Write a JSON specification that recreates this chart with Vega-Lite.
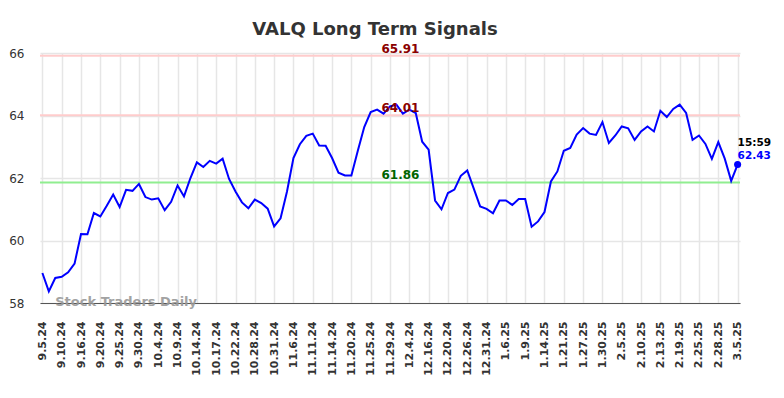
{
  "$schema": "https://vega.github.io/schema/vega-lite/v6.json",
  "width": 700,
  "height": 250,
  "autosize": "none",
  "padding": {"left": 40, "top": 53, "right": 44, "bottom": 95},
  "background": "white",
  "title": {
    "text": "VALQ Long Term Signals",
    "font": "DejaVu Sans",
    "fontSize": 18,
    "fontWeight": "bold",
    "color": "#333333",
    "anchor": "middle",
    "dx": -15,
    "baseline": "alphabetic",
    "offset": -10
  },
  "config": {
    "view": {"stroke": null},
    "font": "DejaVu Sans"
  },
  "datasets": {
    "prices": [
      {"date": "9.5.24", "price": 58.96},
      {"date": "9.6.24", "price": 58.37},
      {"date": "9.9.24", "price": 58.80},
      {"date": "9.10.24", "price": 58.84},
      {"date": "9.11.24", "price": 58.98},
      {"date": "9.13.24", "price": 59.26},
      {"date": "9.16.24", "price": 60.21},
      {"date": "9.17.24", "price": 60.20},
      {"date": "9.18.24", "price": 60.88},
      {"date": "9.20.24", "price": 60.77},
      {"date": "9.23.24", "price": 61.11},
      {"date": "9.24.24", "price": 61.47},
      {"date": "9.25.24", "price": 61.07},
      {"date": "9.26.24", "price": 61.62},
      {"date": "9.27.24", "price": 61.59},
      {"date": "9.30.24", "price": 61.81},
      {"date": "10.2.24", "price": 61.39},
      {"date": "10.3.24", "price": 61.31},
      {"date": "10.4.24", "price": 61.35},
      {"date": "10.7.24", "price": 60.97},
      {"date": "10.8.24", "price": 61.24},
      {"date": "10.9.24", "price": 61.76},
      {"date": "10.10.24", "price": 61.41},
      {"date": "10.11.24", "price": 62.00},
      {"date": "10.14.24", "price": 62.50},
      {"date": "10.15.24", "price": 62.35},
      {"date": "10.16.24", "price": 62.55},
      {"date": "10.17.24", "price": 62.46},
      {"date": "10.18.24", "price": 62.62},
      {"date": "10.21.24", "price": 61.97},
      {"date": "10.22.24", "price": 61.57},
      {"date": "10.24.24", "price": 61.22},
      {"date": "10.25.24", "price": 61.03},
      {"date": "10.28.24", "price": 61.31},
      {"date": "10.29.24", "price": 61.20},
      {"date": "10.30.24", "price": 61.02},
      {"date": "10.31.24", "price": 60.45},
      {"date": "11.1.24", "price": 60.71},
      {"date": "11.5.24", "price": 61.57},
      {"date": "11.6.24", "price": 62.64},
      {"date": "11.7.24", "price": 63.08},
      {"date": "11.8.24", "price": 63.35},
      {"date": "11.11.24", "price": 63.42},
      {"date": "11.12.24", "price": 63.04},
      {"date": "11.13.24", "price": 63.03},
      {"date": "11.14.24", "price": 62.64},
      {"date": "11.15.24", "price": 62.17},
      {"date": "11.19.24", "price": 62.08},
      {"date": "11.20.24", "price": 62.08},
      {"date": "11.21.24", "price": 62.87},
      {"date": "11.22.24", "price": 63.63},
      {"date": "11.25.24", "price": 64.11},
      {"date": "11.26.24", "price": 64.19},
      {"date": "11.27.24", "price": 64.06},
      {"date": "11.29.24", "price": 64.29},
      {"date": "12.2.24", "price": 64.35},
      {"date": "12.3.24", "price": 64.06},
      {"date": "12.4.24", "price": 64.19},
      {"date": "12.5.24", "price": 64.08},
      {"date": "12.13.24", "price": 63.16},
      {"date": "12.16.24", "price": 62.91},
      {"date": "12.17.24", "price": 61.28},
      {"date": "12.18.24", "price": 61.00},
      {"date": "12.20.24", "price": 61.52},
      {"date": "12.23.24", "price": 61.63},
      {"date": "12.24.24", "price": 62.07},
      {"date": "12.26.24", "price": 62.24},
      {"date": "12.27.24", "price": 61.67},
      {"date": "12.30.24", "price": 61.09},
      {"date": "12.31.24", "price": 61.01},
      {"date": "1.2.25", "price": 60.87},
      {"date": "1.3.25", "price": 61.28},
      {"date": "1.6.25", "price": 61.28},
      {"date": "1.7.25", "price": 61.14},
      {"date": "1.8.25", "price": 61.33},
      {"date": "1.9.25", "price": 61.33},
      {"date": "1.10.25", "price": 60.44},
      {"date": "1.13.25", "price": 60.61},
      {"date": "1.14.25", "price": 60.91},
      {"date": "1.16.25", "price": 61.89},
      {"date": "1.17.25", "price": 62.21},
      {"date": "1.21.25", "price": 62.87},
      {"date": "1.22.25", "price": 62.96},
      {"date": "1.24.25", "price": 63.39},
      {"date": "1.27.25", "price": 63.60},
      {"date": "1.28.25", "price": 63.42},
      {"date": "1.29.25", "price": 63.38},
      {"date": "1.30.25", "price": 63.79},
      {"date": "1.31.25", "price": 63.12},
      {"date": "2.4.25", "price": 63.36},
      {"date": "2.5.25", "price": 63.65},
      {"date": "2.6.25", "price": 63.59},
      {"date": "2.7.25", "price": 63.22},
      {"date": "2.10.25", "price": 63.49},
      {"date": "2.11.25", "price": 63.65},
      {"date": "2.12.25", "price": 63.49},
      {"date": "2.13.25", "price": 64.15},
      {"date": "2.14.25", "price": 63.95},
      {"date": "2.18.25", "price": 64.21},
      {"date": "2.19.25", "price": 64.35},
      {"date": "2.20.25", "price": 64.08},
      {"date": "2.21.25", "price": 63.22},
      {"date": "2.25.25", "price": 63.36},
      {"date": "2.26.25", "price": 63.09},
      {"date": "2.27.25", "price": 62.61},
      {"date": "2.28.25", "price": 63.15},
      {"date": "3.3.25", "price": 62.62},
      {"date": "3.4.25", "price": 61.91},
      {"date": "3.5.25", "price": 62.43}
    ],
    "levels": [
      {"level": 65.91, "kind": "upper", "date": "12.2.24", "label": "65.91"},
      {"level": 64.01, "kind": "upper", "date": "12.2.24", "label": "64.01"},
      {"level": 61.86, "kind": "lower", "date": "12.2.24", "label": "61.86"}
    ]
  },
  "layer": [
    {
      "data": {"name": "levels"},
      "mark": {"type": "rule", "strokeWidth": 2},
      "encoding": {
        "y": {"field": "level", "type": "quantitative"},
        "stroke": {
          "field": "kind",
          "type": "nominal",
          "scale": {"domain": ["upper", "lower"], "range": ["#ffcccc", "#90ee90"]},
          "legend": null
        }
      }
    },
    {
      "data": {"name": "prices"},
      "mark": {"type": "line", "color": "#0000ff", "strokeWidth": 2},
      "encoding": {
        "x": {
          "field": "date",
          "type": "ordinal",
          "sort": null,
          "scale": {"type": "point", "padding": 0.37},
          "axis": {
            "title": null,
            "values": ["9.5.24","9.10.24","9.16.24","9.20.24","9.25.24","9.30.24","10.4.24","10.9.24","10.14.24","10.17.24","10.22.24","10.28.24","10.31.24","11.6.24","11.11.24","11.14.24","11.20.24","11.25.24","11.29.24","12.4.24","12.16.24","12.20.24","12.26.24","12.31.24","1.6.25","1.9.25","1.14.25","1.21.25","1.27.25","1.30.25","2.5.25","2.10.25","2.13.25","2.19.25","2.25.25","2.28.25","3.5.25"],
            "labelAngle": -90,
            "labelFont": "DejaVu Sans",
            "labelFontSize": 11,
            "labelFontWeight": "bold",
            "labelColor": "#333333",
            "labelPadding": 18,
            "ticks": false,
            "grid": true,
            "gridColor": "#e6e6e6",
            "gridWidth": 1.5,
            "domainColor": "#555555",
            "domainWidth": 1
          }
        },
        "y": {
          "field": "price",
          "type": "quantitative",
          "scale": {"domain": [58, 66], "nice": false, "zero": false},
          "axis": {
            "title": null,
            "values": [58, 60, 62, 64, 66],
            "labelFont": "DejaVu Sans",
            "labelFontSize": 12,
            "labelColor": "#333333",
            "labelPadding": 16,
            "ticks": false,
            "domain": false,
            "grid": true,
            "gridColor": "#e6e6e6",
            "gridWidth": 1.5
          }
        }
      }
    },
    {
      "data": {"name": "levels"},
      "mark": {"type": "text", "font": "DejaVu Sans", "fontSize": 12, "fontWeight": "bold", "align": "center", "baseline": "alphabetic", "dx": 4, "dy": -3},
      "encoding": {
        "x": {"field": "date", "type": "ordinal", "sort": null},
        "y": {"field": "level", "type": "quantitative"},
        "text": {"field": "label"},
        "fill": {
          "field": "kind",
          "type": "nominal",
          "scale": {"domain": ["upper", "lower"], "range": ["#8b0000", "#006400"]},
          "legend": null
        }
      }
    },
    {
      "data": {"name": "prices"},
      "transform": [{"filter": "datum.date === '3.5.25'"}],
      "mark": {"type": "point", "filled": true, "color": "#0000ff", "size": 50, "opacity": 1},
      "encoding": {
        "x": {"field": "date", "type": "ordinal", "sort": null},
        "y": {"field": "price", "type": "quantitative"}
      }
    },
    {
      "data": {"name": "prices"},
      "transform": [{"filter": "datum.date === '3.5.25'"}],
      "mark": {"type": "text", "font": "DejaVu Sans", "fontSize": 10.5, "fontWeight": "bold", "align": "left", "baseline": "alphabetic", "dy": -19, "color": "#000000"},
      "encoding": {
        "x": {"field": "date", "type": "ordinal", "sort": null},
        "y": {"field": "price", "type": "quantitative"},
        "text": {"value": "15:59"}
      }
    },
    {
      "data": {"name": "prices"},
      "transform": [{"filter": "datum.date === '3.5.25'"}],
      "mark": {"type": "text", "font": "DejaVu Sans", "fontSize": 10.5, "fontWeight": "bold", "align": "left", "baseline": "alphabetic", "dy": -6, "color": "#0000ff"},
      "encoding": {
        "x": {"field": "date", "type": "ordinal", "sort": null},
        "y": {"field": "price", "type": "quantitative"},
        "text": {"field": "price", "format": ".2f"}
      }
    },
    {
      "data": {"values": [{"date": "9.9.24", "price": 58, "label": "Stock Traders Daily"}]},
      "mark": {"type": "text", "font": "DejaVu Sans", "fontSize": 13, "fontWeight": "bold", "align": "left", "baseline": "alphabetic", "dy": 3, "color": "#999999", "opacity": 0.9},
      "encoding": {
        "x": {"field": "date", "type": "ordinal", "sort": null},
        "y": {"field": "price", "type": "quantitative"},
        "text": {"field": "label"}
      }
    }
  ]
}
